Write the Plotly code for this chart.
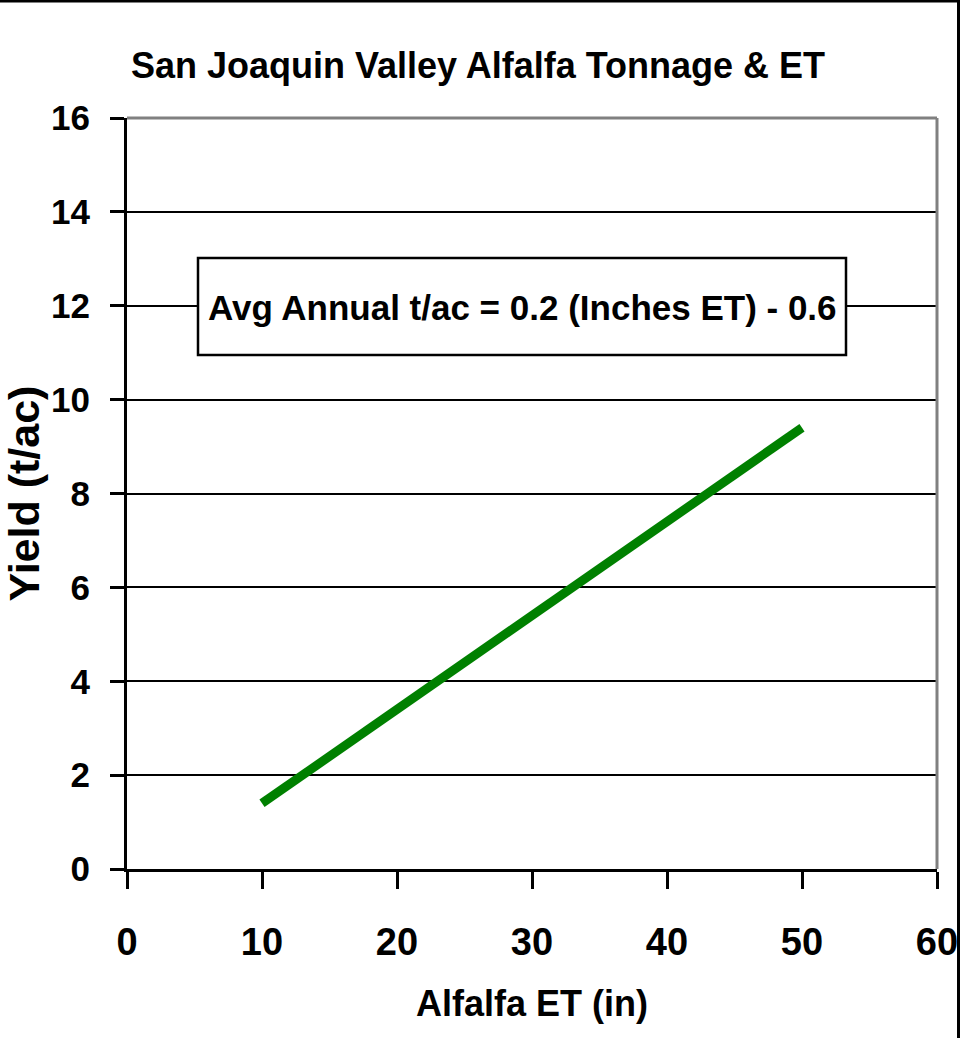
import plotly.graph_objects as go

et_inches = [10, 50]
yield_tac = [1.4, 9.4]
x_ticks = [0, 10, 20, 30, 40, 50, 60]
y_ticks = [0, 2, 4, 6, 8, 10, 12, 14, 16]

NARROW = "Liberation Sans Narrow, Arial Narrow, Liberation Sans, Arial, sans-serif"
WIDE = "Liberation Sans, Arial, sans-serif"

L, R, T, B = 127, 23, 118, 169
PW, PH = 960 - L - R, 1038 - T - B

fig = go.Figure()
fig.add_trace(go.Scatter(x=et_inches, y=yield_tac, mode="lines",
                         line=dict(color="#008000", width=9), showlegend=False,
                         hoverinfo="skip"))

fig.update_layout(
    width=960, height=1038,
    margin=dict(l=L, r=R, t=T, b=B, autoexpand=False),
    paper_bgcolor="white", plot_bgcolor="white",
    title=dict(text="<b>San Joaquin Valley Alfalfa Tonnage & ET</b>",
               font=dict(family=NARROW, size=36, color="black"),
               x=(478 - L) / PW, xref="paper", xanchor="center", y=1 - 65 / 1038, yanchor="middle"),
    xaxis=dict(range=[0, 60], tickvals=x_ticks, ticktext=[f"<b>{v}</b>" for v in x_ticks],
               showgrid=False, zeroline=False, showline=True, linecolor="black", linewidth=3,
               ticks="outside", ticklen=17, tickwidth=3, tickcolor="black",
               ticklabelstandoff=20, ticklabeloverflow="allow", automargin=False,
               tickfont=dict(family=NARROW, size=38, color="black"),
               title=dict(text="<b>Alfalfa ET (in)</b>", font=dict(family=NARROW, size=36, color="black"),
                          standoff=30),
               fixedrange=True),
    yaxis=dict(range=[0, 16], tickvals=y_ticks, ticktext=[f"<b>{v}</b>" for v in y_ticks],
               showgrid=True, gridcolor="black", gridwidth=2, zeroline=False,
               showline=True, linecolor="black", linewidth=3,
               ticks="outside", ticklen=14, tickwidth=3, tickcolor="black",
               ticklabelstandoff=13, automargin=False,
               tickfont=dict(family=NARROW, size=35, color="black"),
               title=dict(text="<b>Yield (t/ac)</b>", font=dict(family=WIDE, size=43, color="black"),
                          standoff=9),
               fixedrange=True),
)

# Plot-area border (top and right) in gray
fig.add_shape(type="line", xref="paper", yref="paper", x0=0, x1=1, y0=1, y1=1,
              line=dict(color="#808080", width=3))
fig.add_shape(type="line", xref="paper", yref="paper", x0=1, x1=1, y0=0, y1=1,
              line=dict(color="#808080", width=3))

# Figure frame (top and right edges)
fig.add_shape(type="line", xref="paper", yref="paper", x0=-L / PW, x1=(PW + R) / PW,
              y0=1 + (T - 1) / PH, y1=1 + (T - 1) / PH, line=dict(color="black", width=3))
fig.add_shape(type="line", xref="paper", yref="paper", x0=(PW + R - 1.5) / PW, x1=(PW + R - 1.5) / PW,
              y0=-B / PH, y1=1 + T / PH, line=dict(color="black", width=3))

# Equation box
fig.add_shape(type="rect", xref="paper", yref="paper",
              x0=(198 - L) / PW, x1=(846 - L) / PW,
              y0=(869 - 355) / PH, y1=(869 - 258) / PH,
              fillcolor="white", line=dict(color="black", width=2.5), layer="above")
fig.add_annotation(text="<b>Avg Annual t/ac = 0.2 (Inches ET) - 0.6</b>",
                   xref="paper", yref="paper", x=(522 - L) / PW, y=(869 - 307) / PH,
                   xanchor="center", yanchor="middle", showarrow=False,
                   font=dict(family=NARROW, size=35, color="black"))

fig.write_html("out.html")
